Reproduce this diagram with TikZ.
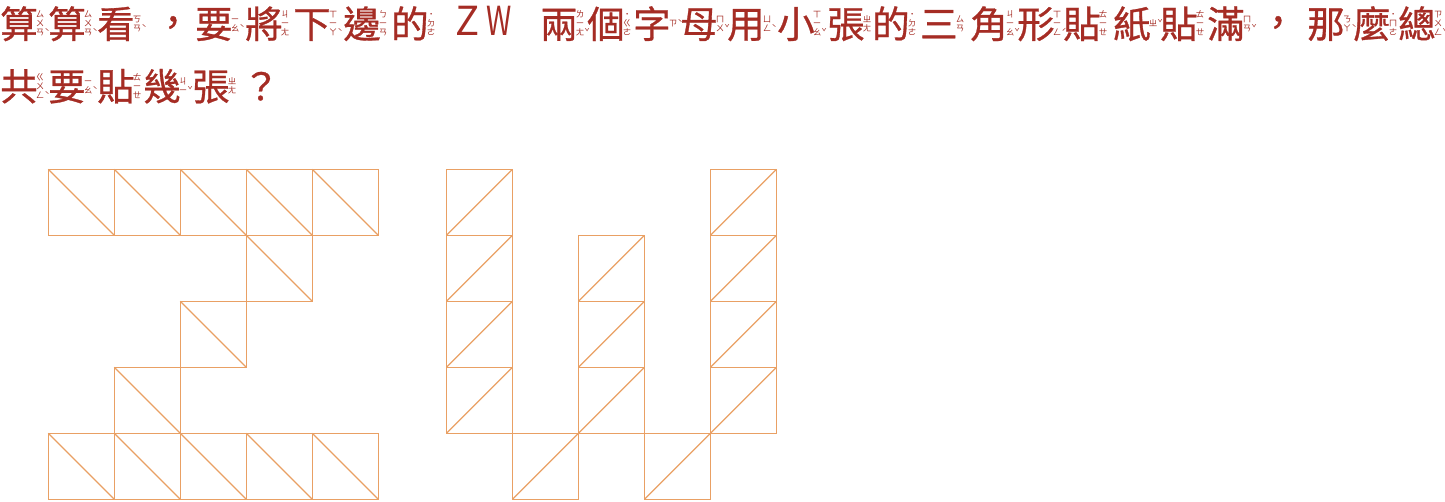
\documentclass[tikz,border=0pt]{standalone}
\usepackage{fontspec}
\usepackage{graphicx}
\newfontfamily\cjk{Noto Sans CJK TC}
\newfontfamily\cjkb{Noto Sans CJK TC}[FakeBold=0.8]
\definecolor{txtred}{RGB}{165,44,36}
\definecolor{gridor}{RGB}{233,160,100}
\newsavebox\zyb
\newcommand\zyf{\cjk\fontsize{8.5}{8.5}\selectfont}
\newcommand\bigf{\cjkb\fontsize{37.5}{37.5}\selectfont}
\newcommand\zystrut{\vrule height 7.3pt depth 1.7pt width 0pt}
\newcommand\zymid{14pt}
\newcommand\zyc[2]{\sbox\zyb{\vbox{\offinterlineskip\zyf\halign{\hfil\zystrut##\hfil\cr#1\crcr}}}\raisebox{\dimexpr\zymid-(\ht\zyb-\dp\zyb)/2\relax}{\usebox\zyb\kern0.3pt\zyf#2}}
\newcommand\zy[6]{\node[txt] (#1) at (#2,#3) {\bigf #4\kern-1.8pt\zyc{#5}{#6}};}
\tikzset{
  txt/.style={anchor=base west, inner sep=0pt, text=txtred},
  punct/.style={anchor=base, inner sep=0pt, text=txtred, font=\bigf},
  cell/.style={draw=gridor, line width=1.3pt, line join=miter}
}
\begin{document}
\begin{tikzpicture}[x=1pt,y=1pt]
\useasboundingbox (0,0) rectangle (1445,-501);
% line 1
\zy{t1}{0}{-38}{算}{ㄙ\cr ㄨ\cr ㄢ}{ˋ}
\zy{t2}{48}{-38}{算}{ㄙ\cr ㄨ\cr ㄢ}{ˋ}
\zy{t3}{97}{-38}{看}{ㄎ\cr ㄢ}{ˋ}
\node[punct] (c1) at (173,-36) {，};
\zy{t4}{195}{-38}{要}{ㄧ\cr ㄠ}{ˋ}
\zy{t5}{245}{-38}{將}{ㄐ\cr ㄧ\cr ㄤ}{}
\zy{t6}{293}{-38}{下}{ㄒ\cr ㄧ\cr ㄚ}{ˋ}
\zy{t7}{343}{-38}{邊}{ㄅ\cr ㄧ\cr ㄢ}{}
\zy{t8}{391}{-38}{的}{˙\cr ㄉ\cr ㄜ}{}
\node[txt, font=\cjk\fontsize{40}{40}\selectfont] (lz) at (455,-35.5) {Z};
\node[txt, font=\cjk\fontsize{40}{40}\selectfont] (lw) at (486,-35.5) {\scalebox{0.72}[1]{W}};
\zy{t9}{540}{-38}{兩}{ㄌ\cr ㄧ\cr ㄤ}{ˇ}
\zy{t10}{587}{-38}{個}{˙\cr ㄍ\cr ㄜ}{}
\zy{t11}{633}{-38}{字}{ㄗ}{ˋ}
\zy{t12}{680}{-38}{母}{ㄇ\cr ㄨ}{ˇ}
\zy{t13}{727}{-38}{用}{ㄩ\cr ㄥ}{ˋ}
\zy{t14}{777}{-38}{小}{ㄒ\cr ㄧ\cr ㄠ}{ˇ}
\zy{t15}{827}{-38}{張}{ㄓ\cr ㄤ}{}
\zy{t16}{872}{-38}{的}{˙\cr ㄉ\cr ㄜ}{}
\zy{t17}{920}{-38}{三}{ㄙ\cr ㄢ}{}
\zy{t18}{970}{-38}{角}{ㄐ\cr ㄧ\cr ㄠ}{ˇ}
\zy{t19}{1017}{-38}{形}{ㄒ\cr ㄧ\cr ㄥ}{ˊ}
\zy{t20}{1063}{-38}{貼}{ㄊ\cr ㄧ\cr ㄝ}{}
\zy{t21}{1113}{-38}{紙}{ㄓ}{ˇ}
\zy{t22}{1160}{-38}{貼}{ㄊ\cr ㄧ\cr ㄝ}{}
\zy{t23}{1207}{-38}{滿}{ㄇ\cr ㄢ}{ˇ}
\node[punct] (c2) at (1278,-36) {，};
\zy{t24}{1307}{-38}{那}{ㄋ\cr ㄚ}{ˋ}
\zy{t25}{1353}{-38}{麼}{˙\cr ㄇ\cr ㄜ}{}
\zy{t26}{1398}{-38}{總}{ㄗ\cr ㄨ\cr ㄥ}{ˇ}
% line 2
\zy{t27}{0}{-100.4}{共}{ㄍ\cr ㄨ\cr ㄥ}{ˋ}
\zy{t28}{48}{-100.4}{要}{ㄧ\cr ㄠ}{ˋ}
\zy{t29}{97}{-100.4}{貼}{ㄊ\cr ㄧ\cr ㄝ}{}
\zy{t30}{143}{-100.4}{幾}{ㄐ\cr ㄧ}{ˇ}
\zy{t31}{192}{-100.4}{張}{ㄓ\cr ㄤ}{}
\node[punct] (q) at (261,-100.4) {？};
% Z
\foreach \c/\r in {0/0,1/0,2/0,3/0,4/0,3/1,2/2,1/3,0/4,1/4,2/4,3/4,4/4} {
  \draw[cell] (48.3+66*\c,-169.3-66*\r) rectangle ++(66,-66);
  \draw[cell] (48.3+66*\c,-169.3-66*\r) -- ++(66,-66);
}
% W
\foreach \c/\r in {0/0,0/1,0/2,0/3,1/4,2/1,2/2,2/3,3/4,4/0,4/1,4/2,4/3} {
  \draw[cell] (446.5+66*\c,-169.3-66*\r) rectangle ++(66,-66);
  \draw[cell] (446.5+66*\c,-235.3-66*\r) -- ++(66,66);
}
\end{tikzpicture}
\end{document}
